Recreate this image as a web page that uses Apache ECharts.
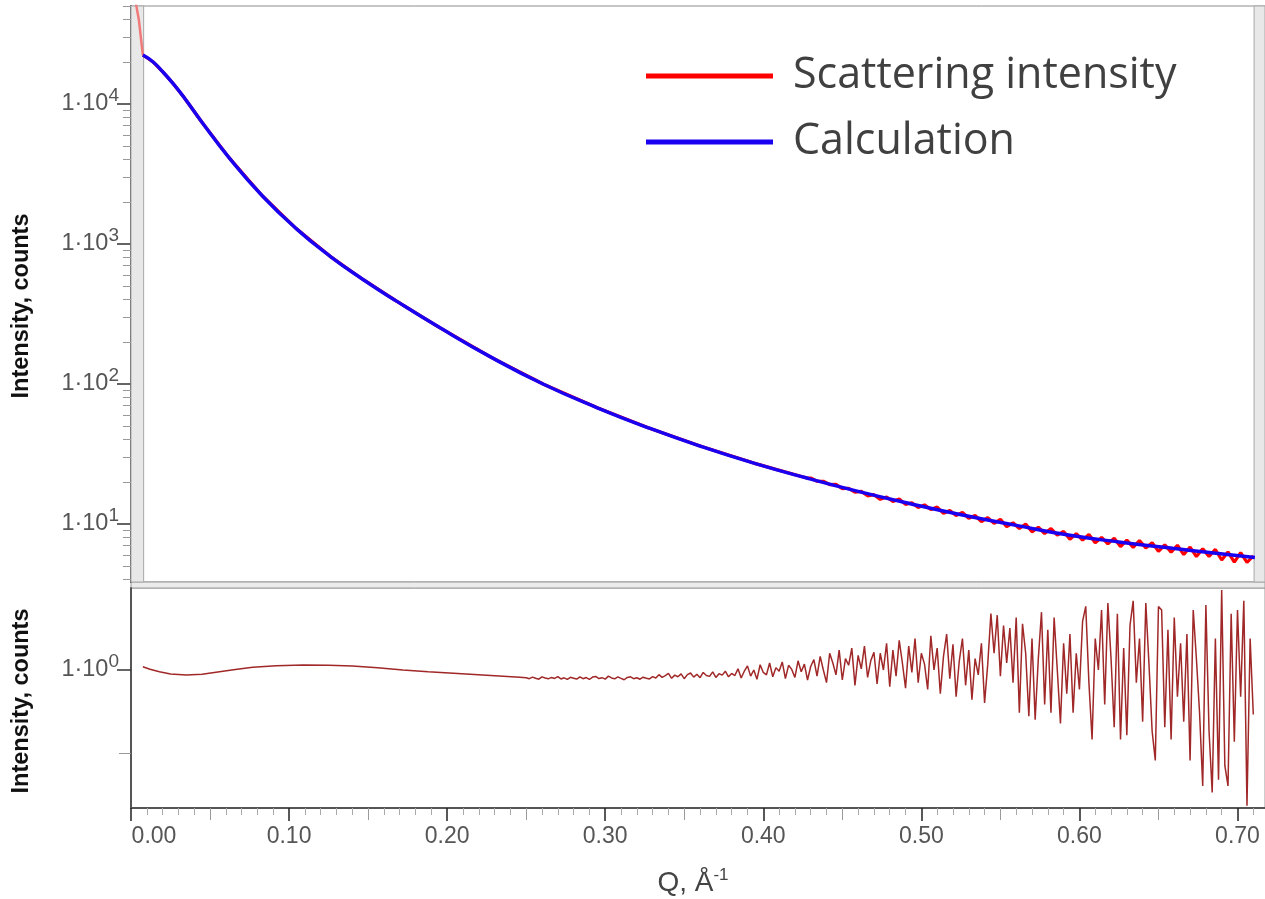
<!DOCTYPE html>
<html><head><meta charset="utf-8">
<script src="https://cdn.jsdelivr.net/npm/echarts@6/dist/echarts.min.js"></script>
<style>html,body{margin:0;padding:0;background:#fff}#c{width:1265px;height:899px}</style>
</head><body><div id="c"></div>
<script>
// ---------- data ----------
// Calculation (model) curve
const calcQ = [0.0075, 0.0138, 0.020, 0.0265, 0.033, 0.045, 0.062, 0.083, 0.1045, 0.126, 0.147, 0.168, 0.195, 0.228, 0.261, 0.295, 0.328, 0.361, 0.394, 0.427, 0.460, 0.493, 0.526, 0.560, 0.593, 0.626, 0.659, 0.685, 0.711];
const calcI = [22387, 20045, 17022, 14060, 11350, 7379, 4140, 2213, 1288, 816.6, 555.9, 390.8, 254.1, 154.9, 99.54, 67.61, 48.31, 35.73, 27.23, 21.38, 17.10, 13.96, 11.59, 9.772, 8.337, 7.413, 6.699, 6.209, 5.754];

// Measured scattering intensity (used range)
const intensQ = [0.0075, 0.0138, 0.020, 0.0265, 0.033, 0.045, 0.062, 0.083, 0.1045, 0.126, 0.147, 0.168, 0.195, 0.228, 0.261, 0.295, 0.328, 0.361, 0.394, 0.427,
  0.430,0.434,0.438,0.442,0.446,0.450,0.454,0.458,0.462,0.466,
  0.470,0.474,0.478,0.482,0.486,0.490,0.494,0.498,0.502,0.506,
  0.510,0.514,0.518,0.522,0.526,0.530,0.534,0.538,0.542,0.546,
  0.550,0.554,0.558,0.562,0.566,0.570,0.574,0.578,0.582,0.586,
  0.590,0.594,0.598,0.602,0.606,0.610,0.614,0.618,0.622,0.626,
  0.630,0.634,0.638,0.642,0.646,0.650,0.654,0.658,0.662,0.666,
  0.670,0.674,0.678,0.682,0.686,0.690,0.694,0.698,0.702,0.706,
  0.710];
const intensI = [22387, 20045, 17022, 14060, 11350, 7379, 4140, 2213, 1288, 816.6, 555.9, 390.8, 254.1, 154.9, 99.54, 67.61, 48.31, 35.73, 27.23, 21.38,
  21.3,20.2,20.2,19.1,19.2,17.9,18.0,16.9,17.1,15.9,
  16.2,15.0,15.6,14.5,15.1,13.8,14.2,13.1,13.7,12.7,
  13.2,11.9,12.5,11.5,12.1,11.0,11.5,10.4,11.1,10.1,
  10.8,9.57,10.2,9.29,9.98,8.79,9.48,8.55,9.29,8.32,
  8.85,7.78,8.53,7.67,8.43,7.33,8.02,7.21,7.91,6.89,
  7.67,6.81,7.62,6.75,7.36,6.37,7.10,6.30,7.05,6.05,
  6.84,5.86,6.65,5.87,6.58,5.53,6.32,5.35,6.24,5.31,
  5.92];

// Measured intensity inside the masked (excluded) low-Q band
const maskedQ = [0.0020, 0.0034, 0.0050, 0.0075];
const maskedI = [80000, 50000, 39800, 22387];

// Residual panel (ratio)
const residQ = [0.0075, 0.012, 0.018, 0.025, 0.035, 0.045, 0.056, 0.066, 0.077, 0.092, 0.109, 0.125, 0.140, 0.156, 0.172, 0.188, 0.204, 0.225, 0.246,
  0.250,0.252,0.254,0.256,0.258,0.260,0.262,0.264,0.266,0.268,
  0.270,0.272,0.274,0.276,0.278,0.280,0.282,0.284,0.286,0.288,
  0.290,0.292,0.294,0.296,0.298,0.300,0.302,0.304,0.306,0.308,
  0.310,0.312,0.314,0.316,0.318,0.320,0.322,0.324,0.326,0.328,
  0.330,0.332,0.334,0.336,0.338,0.340,0.342,0.344,0.346,0.348,
  0.350,0.352,0.354,0.356,0.358,0.360,0.362,0.364,0.366,0.368,
  0.370,0.372,0.374,0.376,0.378,0.380,0.382,0.384,0.386,0.388,
  0.390,0.392,0.394,0.396,0.398,0.400,0.402,0.404,0.406,0.408,
  0.410,0.412,0.414,0.416,0.418,0.420,0.422,0.424,0.426,0.428,
  0.430,0.432,0.434,0.436,0.438,0.440,0.442,0.444,0.446,0.448,
  0.450,0.452,0.454,0.456,0.458,0.460,0.462,0.464,0.466,0.468,
  0.470,0.472,0.474,0.476,0.478,0.480,0.482,0.484,0.486,0.488,
  0.490,0.492,0.494,0.496,0.498,0.500,0.502,0.504,0.506,0.508,
  0.510,0.512,0.514,0.516,0.518,0.520,0.522,0.524,0.526,0.528,
  0.530,0.532,0.534,0.536,0.538,0.540,0.542,0.544,0.546,0.548,
  0.550,0.552,0.554,0.556,0.558,0.560,0.562,0.564,0.566,0.568,
  0.570,0.572,0.574,0.576,0.578,0.580,0.582,0.584,0.586,0.588,
  0.590,0.592,0.594,0.596,0.598,0.600,0.602,0.604,0.606,0.608,
  0.610,0.612,0.614,0.616,0.618,0.620,0.622,0.624,0.626,0.628,
  0.630,0.632,0.634,0.636,0.638,0.640,0.642,0.644,0.646,0.648,
  0.650,0.652,0.654,0.656,0.658,0.660,0.662,0.664,0.666,0.668,
  0.670,0.672,0.674,0.676,0.678,0.680,0.682,0.684,0.686,0.688,
  0.690,0.692,0.694,0.696,0.698,0.700,0.702,0.704,0.706,0.708,
  0.710];
const residV = [1.028, 1.006, 0.985, 0.968, 0.959, 0.965, 0.986, 1.005, 1.023, 1.036, 1.043, 1.041, 1.034, 1.018, 1.000, 0.986, 0.973, 0.957, 0.941,
  0.938,0.930,0.942,0.933,0.926,0.944,0.935,0.929,0.940,0.932,
  0.946,0.928,0.937,0.925,0.941,0.934,0.927,0.945,0.930,0.939,
  0.924,0.943,0.948,0.931,0.938,0.927,0.950,0.936,0.929,0.944,
  0.933,0.922,0.940,0.945,0.930,0.937,0.926,0.942,0.934,0.928,
  0.946,0.935,0.962,0.940,0.955,0.972,0.933,0.958,0.945,0.968,
  0.930,0.962,0.975,0.942,0.965,0.938,0.980,0.955,0.948,0.985,
  0.940,0.970,0.958,0.990,0.945,0.972,0.955,1.010,0.935,0.990,
  1.035,0.950,1.000,0.925,1.045,0.980,0.960,1.060,0.945,1.020,
  0.990,1.070,0.930,1.040,1.005,0.940,1.080,0.985,1.050,0.920,
  1.030,1.090,0.950,1.120,1.000,0.900,1.150,1.060,0.960,1.180,
  0.920,1.100,1.040,1.200,0.880,1.130,1.010,1.220,0.940,1.080,
  1.160,0.890,1.150,1.000,1.250,0.870,1.180,0.950,1.280,1.060,
  0.860,1.220,0.980,1.300,0.900,1.150,1.050,0.850,1.330,1.000,
  1.200,0.820,1.120,1.350,0.930,1.240,0.800,1.080,1.300,0.880,
  1.180,0.780,1.100,0.960,1.250,0.760,1.050,1.600,1.150,1.580,
  0.950,1.450,1.060,1.420,0.900,1.550,0.700,1.470,1.150,0.680,
  1.300,0.660,1.100,1.620,0.750,1.400,0.700,1.550,1.000,0.640,
  1.250,0.820,1.350,0.700,1.150,0.850,1.500,1.700,0.900,0.560,
  1.300,1.000,1.650,0.750,1.750,1.100,0.620,1.600,0.560,1.200,
  0.580,1.450,1.780,0.900,1.300,0.650,1.750,1.050,0.600,0.470,
  1.700,1.650,0.620,1.400,0.560,1.550,0.800,1.250,0.650,1.350,
  0.470,1.650,1.100,0.700,0.380,1.720,0.600,0.360,1.300,0.400,
  1.950,0.450,0.380,1.600,0.550,1.650,0.800,1.780,0.322,1.300,
  0.690];

// axis ticks / labels
const xMajorTicks = [0, 0.1, 0.2, 0.3, 0.4, 0.5, 0.6, 0.7];
const xMidTicks = [0.05, 0.15, 0.25, 0.35, 0.45, 0.55, 0.65];
const topMajorTicks = [10, 100, 1000, 10000];
const topMinorMantissas = [2, 3, 4, 5, 6, 7, 8, 9];
const botMajorTicks = [1];
const botMinorTicks = [0.5];
const maskedBands = [[0, 0.0080], [0.7105, 0.7174]];

// ---------- layout / scales ----------
const X_MIN = 0, X_MAX = 0.7174;
const TOP_LOG_MIN = 0.5857, TOP_LOG_MAX = 4.70;
const BOT_LOG_MIN = -0.5, BOT_LOG_MAX = 0.2971;
const FONT = "'Liberation Sans', Arial, sans-serif";
const L = Math.log10;
const pairs = (qs, vs) => qs.map((q, i) => [q, L(vs[i])]);

const xMinorTicks = [];
for (let i = 1; i <= 71; i++) if (i % 5 !== 0) xMinorTicks.push(i / 100);
const topMinorTicks = [];
[1, 10, 100, 1000, 10000].forEach(d => topMinorMantissas.forEach(m => {
  const lv = L(m * d);
  if (lv > TOP_LOG_MIN && lv < TOP_LOG_MAX) topMinorTicks.push(lv);
}));

const supRich = {
  b: {fontFamily: FONT, fontSize: 23.5, color: '#555', lineHeight: 26, verticalAlign: 'middle'},
  s: {fontFamily: FONT, fontSize: 19, color: '#555', lineHeight: 26, padding: [0, 0, 12, 0], verticalAlign: 'bottom'}
};
const powLabel = v => '{b|1·10}{s|' + Math.round(v) + '}';

const tickAxisX = (grid, ticks, len, color) => ({
  gridIndex: grid, type: 'value', min: X_MIN, max: X_MAX, position: 'bottom', offset: 0,
  axisLine: {show: false, onZero: false},
  axisTick: {show: true, customValues: ticks, length: len, lineStyle: {color: color, width: 1}},
  axisLabel: {show: false}, splitLine: {show: false}
});
const tickAxisY = (grid, ticks, len, color, mn, mx) => ({
  gridIndex: grid, type: 'value', min: mn, max: mx, position: 'left', offset: 0,
  axisLine: {show: false, onZero: false},
  axisTick: {show: true, customValues: ticks, length: len, lineStyle: {color: color, width: 1}},
  axisLabel: {show: false}, splitLine: {show: false}
});
const yName = {
  fontFamily: FONT, fontWeight: 'bold', fontSize: 23.5, color: '#111'
};

const option = {
  backgroundColor: '#ffffff',
  animation: false,
  legend: {
    data: ['Scattering intensity', 'Calculation'],
    orient: 'vertical', left: 641, top: 46,
    itemWidth: 127, itemHeight: 5, itemGap: 16, icon: 'rect',
    selectedMode: false,
    textStyle: {fontFamily: "'Open Sans', sans-serif", fontSize: 43, color: '#404040', lineHeight: 50, padding: [0, 0, 0, 15]}
  },
  grid: [
    {left: 131, right: 0, top: 6, height: 576, show: true, borderColor: '#8c8c8c', borderWidth: 1, backgroundColor: '#ffffff'},
    {left: 131, right: 0, top: 588, height: 220, show: true, borderColor: '#9a9a9a', borderWidth: 1, backgroundColor: '#ffffff'},
    {left: 131, right: 0, top: 582, height: 6, show: true, borderColor: '#9a9a9a', borderWidth: 1, backgroundColor: '#ebebeb'}
  ],
  xAxis: [
    {gridIndex: 0, type: 'value', min: X_MIN, max: X_MAX, show: false},
    {
      gridIndex: 1, type: 'value', min: X_MIN, max: X_MAX, position: 'bottom', offset: 0,
      axisLine: {show: true, onZero: false, lineStyle: {color: '#555', width: 2}},
      axisTick: {show: true, customValues: xMajorTicks, length: 13, lineStyle: {color: '#222', width: 1.5}},
      axisLabel: {
        customValues: xMajorTicks, margin: 17, color: '#555', fontSize: 23, fontFamily: FONT,
        formatter: v => Math.abs(v) < 1e-9 ? '{l|0.00}' : v.toFixed(2),
        rich: {l: {fontFamily: FONT, fontSize: 23, color: '#555', padding: [0, 0, 0, 46]}}
      },
      splitLine: {show: false},
      name: '{b|Q, Å}{s|-1}', nameLocation: 'middle', nameGap: 60,
      nameTextStyle: {
        padding: [0, 10, 0, 0],
        rich: {
          b: {fontFamily: FONT, fontSize: 28, color: '#444', lineHeight: 30, verticalAlign: 'middle'},
          s: {fontFamily: FONT, fontSize: 17, color: '#444', lineHeight: 20, padding: [0, 0, 14, 0], verticalAlign: 'bottom'}
        }
      }
    },
    tickAxisX(1, xMidTicks, 12, '#9a9a9a'),
    tickAxisX(1, xMinorTicks, 7, '#aaaaaa'),
    {gridIndex: 2, type: 'value', min: X_MIN, max: X_MAX, show: false}
  ],
  yAxis: [
    {
      gridIndex: 0, type: 'value', min: TOP_LOG_MIN, max: TOP_LOG_MAX, position: 'left', offset: 0,
      axisLine: {show: true, onZero: false, lineStyle: {color: '#555', width: 2}},
      axisTick: {show: true, customValues: topMajorTicks.map(L), length: 14, lineStyle: {color: '#333', width: 1.5}},
      axisLabel: {customValues: topMajorTicks.map(L), margin: 12, formatter: powLabel, rich: supRich},
      splitLine: {show: false},
      name: 'Intensity, counts', nameLocation: 'middle', nameGap: 97,
      nameTextStyle: Object.assign({padding: [0, 24, 0, 0]}, yName)
    },
    tickAxisY(0, topMinorTicks, 8, '#999999', TOP_LOG_MIN, TOP_LOG_MAX),
    {
      gridIndex: 1, type: 'value', min: BOT_LOG_MIN, max: BOT_LOG_MAX, position: 'left', offset: 0,
      axisLine: {show: true, onZero: false, lineStyle: {color: '#555', width: 2}},
      axisTick: {show: true, customValues: botMajorTicks.map(L), length: 14, lineStyle: {color: '#333', width: 1.5}},
      axisLabel: {customValues: botMajorTicks.map(L), margin: 12, formatter: powLabel, rich: supRich},
      splitLine: {show: false},
      name: 'Intensity, counts', nameLocation: 'middle', nameGap: 97,
      nameTextStyle: Object.assign({padding: [0, 6, 0, 0]}, yName)
    },
    tickAxisY(1, botMinorTicks.map(L), 12, '#999999', BOT_LOG_MIN, BOT_LOG_MAX),
    {gridIndex: 2, type: 'value', min: 0, max: 1, show: false}
  ],
  series: [
    {
      name: 'Mask', type: 'line', xAxisIndex: 0, yAxisIndex: 0, data: [], z: 1, silent: true,
      markArea: {
        silent: true,
        itemStyle: {color: '#e8e8e8', borderColor: '#a8a8a8', borderWidth: 1},
        data: maskedBands.map(b => [{xAxis: b[0]}, {xAxis: b[1]}])
      }
    },
    {
      name: 'Masked intensity', type: 'line', xAxisIndex: 0, yAxisIndex: 0, z: 2,
      data: pairs(maskedQ, maskedI), showSymbol: false, symbol: 'none',
      lineStyle: {color: '#f07a7a', width: 2.5}, itemStyle: {color: '#f07a7a'}
    },
    {
      name: 'Scattering intensity', type: 'line', xAxisIndex: 0, yAxisIndex: 0, z: 3,
      data: pairs(intensQ, intensI), showSymbol: false, symbol: 'none', smooth: false,
      lineStyle: {color: '#ff0000', width: 3.2}, itemStyle: {color: '#ff0000'}
    },
    {
      name: 'Calculation', type: 'line', xAxisIndex: 0, yAxisIndex: 0, z: 4,
      data: pairs(calcQ, calcI), showSymbol: false, symbol: 'none', smooth: 0.5,
      lineStyle: {color: '#1a00f0', width: 3.5}, itemStyle: {color: '#1a00f0'}
    },
    {
      name: 'Residual', type: 'line', xAxisIndex: 1, yAxisIndex: 2, z: 3,
      data: pairs(residQ, residV), showSymbol: false, symbol: 'none',
      lineStyle: {color: '#a02828', width: 1.5}, itemStyle: {color: '#a02828'}
    }
  ]
};

const chart = echarts.init(document.getElementById('c'));
chart.setOption(option);
</script></body></html>
